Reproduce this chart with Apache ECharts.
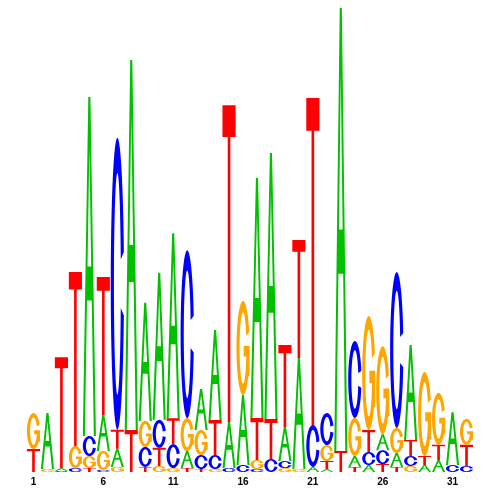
<!DOCTYPE html>
<html>
<head>
<meta charset="utf-8">
<script src="https://cdn.jsdelivr.net/npm/echarts@6/dist/echarts.min.js"></script>
<style>
html, body { margin: 0; padding: 0; background: #fff; }
#chart { width: 500px; height: 500px; }
</style>
</head>
<body>
<div id="chart"></div>
<script>
// motif positions (x axis)
const positions = ['1', '2', '3', '4', '5', '6', '7', '8', '9', '10', '11', '12', '13', '14', '15', '16',
  '17', '18', '19', '20', '21', '22', '23', '24', '25', '26', '27', '28', '29', '30', '31', '32'];

// letter heights in bits
const bitsA = [0, 0.241, 0.013, 0, 1.461, 0.155, 0.078, 1.595, 0.509, 0.634, 0.797, 0.073, 0.177, 0.388, 0.198, 0.302,
  1.034, 1.147, 0.147, 0.478, 0.022, 0.013, 1.909, 0.047, 0.030, 0.069, 0.060, 0.409, 0.030, 0.052, 0.228, 0];
const bitsC = [0, 0, 0.004, 0.017, 0.086, 0.009, 1.259, 0, 0.086, 0.121, 0.103, 0.724, 0.060, 0.060, 0.017, 0.030,
  0.013, 0.056, 0.030, 0, 0.181, 0.138, 0, 0.332, 0.056, 0.060, 0.672, 0.043, 0, 0, 0.030, 0.026];
const bitsG = [0.155, 0.013, 0, 0.095, 0.052, 0.082, 0.022, 0, 0.112, 0.026, 0.017, 0.142, 0.108, 0.013, 0, 0.405,
  0.039, 0, 0.017, 0.013, 0, 0.069, 0, 0.164, 0.491, 0.379, 0.108, 0.026, 0.362, 0.224, 0, 0.112];
const bitsT = [0.099, 0, 0.478, 0.75, 0.017, 0.595, 0.082, 0.181, 0.022, 0.078, 0.112, 0.017, 0.013, 0.151, 1.366, 0,
  0.181, 0.172, 0.353, 0.509, 1.409, 0.034, 0.091, 0.022, 0.095, 0.034, 0.022, 0.069, 0.039, 0.065, 0, 0.091];

const heights = { A: bitsA, C: bitsC, G: bitsG, T: bitsT };
const colors = { A: '#00c000', C: '#0000ff', G: '#ffa500', T: '#ff0000' };

// letter outlines in a 100x100 box, stretched into each cell
function ring(t1, t2, irx, iry) {
  const pts = [];
  const n = 48;
  const span = 2 * Math.PI - t2 - t1;
  for (let i = 0; i <= n; i++) {
    const a = t1 + span * i / n;
    pts.push([50 + 50 * Math.cos(a), 50 - 50 * Math.sin(a)]);
  }
  for (let i = n; i >= 0; i--) {
    const a = t1 + span * i / n;
    pts.push([50 + irx * Math.cos(a), 50 - iry * Math.sin(a)]);
  }
  return 'M' + pts.map(p => p[0].toFixed(2) + ' ' + p[1].toFixed(2)).join(' L') + ' Z';
}
const glyphs = {
  A: 'M0 100 L42 0 L58 0 L100 100 L84 100 L68 60 L32 60 L16 100 Z M36 50 L64 50 L50 15 Z',
  C: ring(0.22, 0.22, 26, 38),
  G: ring(0.35, 0.15, 26, 38) + ' M100 48 L55 48 L55 59 L86 59 L86 80 L100 80 Z',
  T: 'M0 0 L100 0 L100 10 L60 10 L60 100 L40 100 L40 10 L0 10 Z'
};

let myChart = echarts.init(document.getElementById('chart'));
let option = {
  animation: false,
  grid: { left: 26.5, right: 26.5, top: 8, bottom: 28, outerBoundsMode: 'none' },
  xAxis: {
    type: 'category',
    data: positions,
    axisLine: { show: false },
    axisTick: { show: false },
    axisLabel: {
      interval: 4,
      margin: 5,
      color: '#000',
      fontSize: 10,
      fontWeight: 'bold',
      fontFamily: 'Liberation Sans'
    }
  },
  yAxis: { type: 'value', min: 0, max: 2, show: false },
  series: [
    {
      type: 'custom',
      data: positions.map((p, i) => [i, bitsA[i] + bitsC[i] + bitsG[i] + bitsT[i]]),
      encode: { x: 0, y: 1 },
      renderItem: function (params, api) {
        const i = api.value(0);
        const w = api.size([1, 0])[0] * 0.94;
        const xc = api.coord([i, 0])[0];
        const stack = ['A', 'C', 'G', 'T']
          .map(l => ({ l: l, h: heights[l][i] }))
          .filter(d => d.h > 0)
          .sort((a, b) => a.h - b.h);
        let base = 0;
        const children = [];
        stack.forEach(d => {
          const y0 = api.coord([i, base])[1];
          const y1 = api.coord([i, base + d.h])[1];
          base += d.h;
          children.push({
            type: 'path',
            shape: { pathData: glyphs[d.l], x: xc - w / 2, y: y1, width: w, height: y0 - y1, layout: 'cover' },
            style: { fill: colors[d.l] }
          });
        });
        return { type: 'group', children: children };
      }
    }
  ]
};
myChart.setOption(option);
window.addEventListener('resize', function () { myChart.resize() })
</script>
</body>
</html>
